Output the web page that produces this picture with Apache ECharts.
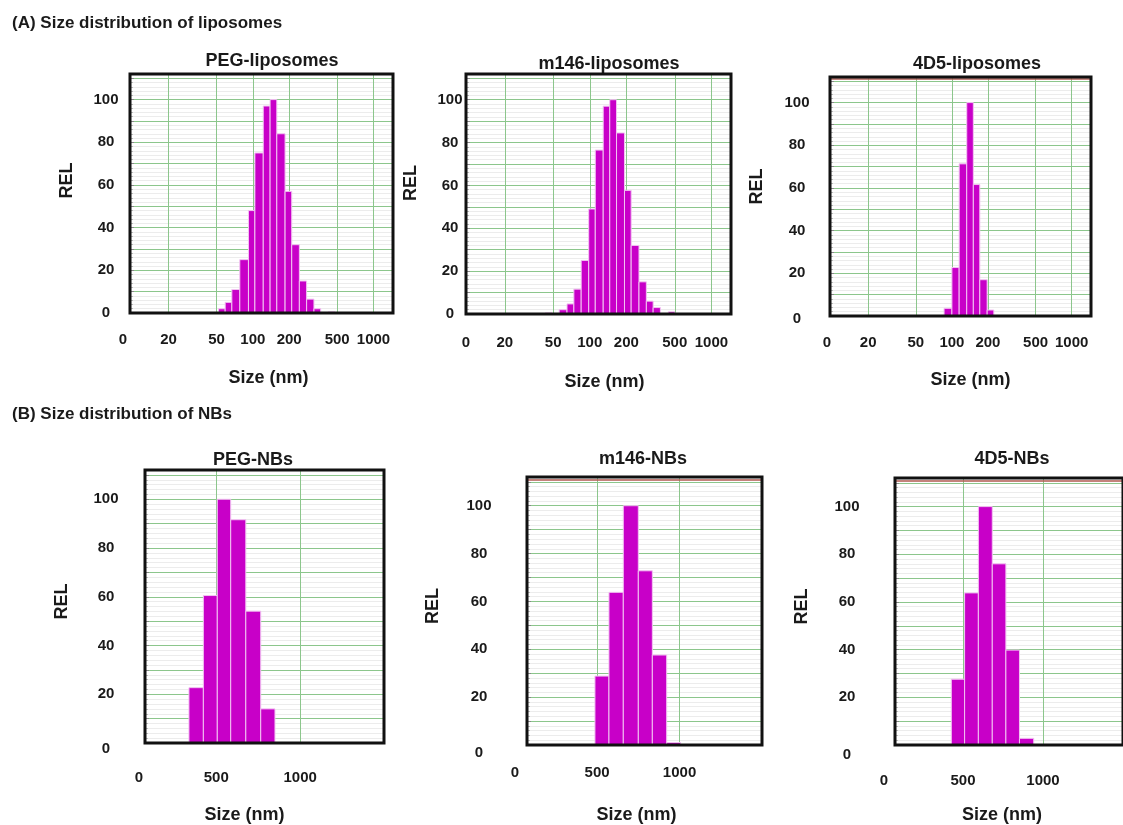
<!DOCTYPE html>
<html>
<head>
<meta charset="utf-8">
<title>Size distribution of liposomes and NBs</title>
<script src="https://cdn.jsdelivr.net/npm/echarts@6/dist/echarts.min.js"></script>
<style>
  html, body { margin: 0; padding: 0; background: #fff; }
  #chart { width: 1123px; height: 825px; }
</style>
</head>
<body>
<div id="chart"></div>
<script>
// ---- 数据：各面板的分箱边界 (nm) 与相对强度 REL ----
const pegLipoEdges = [52, 59, 67, 78, 92, 104, 122, 139, 158, 185, 210, 243, 279, 321, 365, 420, 480]
const pegLipoRel = [2, 5, 11, 25, 48, 75, 97, 100, 84, 57, 32, 15, 6.5, 2, 0, 0.5]

const m146LipoEdges = [43, 49, 56, 65, 74, 85, 98, 111, 129, 146, 166, 193, 219, 254, 292, 332, 381, 442, 501]
const m146LipoRel = [0.5, 0, 2, 4.7, 11.6, 25, 49, 76.5, 97, 100, 84.5, 57.7, 32, 15, 6, 3, 0, 1]

const d45LipoEdges = [86, 100, 115, 133, 151, 171, 197, 224]
const d45LipoRel = [3.6, 22.7, 71.3, 100, 61.6, 17, 2.8]

const pegNbEdges = [337, 423, 506, 586, 676, 765, 850]
const pegNbRel = [22.7, 60.5, 100, 91.6, 54.1, 14]

const m146NbEdges = [487, 572, 659, 750, 835, 922, 1007]
const m146NbRel = [28.8, 63.8, 100, 72.8, 37.6, 1]

const d45NbEdges = [427, 510, 596, 683, 768, 853, 942]
const d45NbRel = [27.6, 63.8, 100, 76, 39.8, 2.8]

// ---- 刻度 ----
const lipoTicks = [20, 50, 100, 200, 500, 1000]
const nbTicks = [500, 1000]
const lipoRange = [9.6, 1450]
const nbRange = [75, 1500]
const relMax = 112

// ---- 面板布局 ----
const panels = [
  { name: 'PEG-liposomes', edges: pegLipoEdges, rel: pegLipoRel, log: true,
    box: [130, 74, 263, 239], title: [272, 53], yMargin: 24, relGap: 54, relUp: 26,
    xMargin: 19, nameGap: 56, nameShift: 14, zeroX: 7, zeroY: 0, topLine: false },
  { name: 'm146-liposomes', edges: m146LipoEdges, rel: m146LipoRel, log: true,
    box: [466, 74, 265, 240], title: [609, 56], yMargin: 16, relGap: 46, relUp: 22,
    xMargin: 21, nameGap: 59, nameShift: 12, zeroX: 0, zeroY: 0, topLine: false },
  { name: '4D5-liposomes', edges: d45LipoEdges, rel: d45LipoRel, log: true,
    box: [830, 77, 261, 239], title: [977, 56], yMargin: 33, relGap: 64, relUp: 20,
    xMargin: 19, nameGap: 55, nameShift: 20, zeroX: 3, zeroY: 3, topLine: true },
  { name: 'PEG-NBs', edges: pegNbEdges, rel: pegNbRel, log: false,
    box: [145, 470, 239, 275], title: [253, 452], yMargin: 39, relGap: 74, relUp: 10,
    xMargin: 27, nameGap: 63, nameShift: -40, zeroX: 6, zeroY: 6, topLine: false },
  { name: 'm146-NBs', edges: m146NbEdges, rel: m146NbRel, log: false,
    box: [527, 477, 235, 270], title: [643, 451], yMargin: 48, relGap: 85, relUp: 10,
    xMargin: 20, nameGap: 61, nameShift: -16, zeroX: 12, zeroY: 8, topLine: true },
  { name: '4D5-NBs', edges: d45NbEdges, rel: d45NbRel, log: false,
    box: [895, 478, 240, 269], title: [1012, 451], yMargin: 48, relGap: 84, relUp: 10,
    xMargin: 28, nameGap: 61, nameShift: -14, zeroX: 11, zeroY: 10, topLine: true }
]

const FONT = "'Liberation Sans', Arial, sans-serif"
const INK = '#1a1a1a'
const GREEN = '#8cc68c'
const MINOR = '#ececec'
const BAR = '#c800c8'

const chart = echarts.init(document.getElementById('chart'))

function boldText(size) {
  return { fontFamily: FONT, fontWeight: 'bold', fontSize: size, color: INK }
}

// 直方柱：用坐标轴换算每个分箱的左右边界
function renderBin(params, api) {
  const base = api.coord([api.value(0), 0])
  const top = api.coord([api.value(1), api.value(2)])
  return {
    type: 'rect',
    shape: { x: base[0], y: top[1], width: top[0] - base[0], height: base[1] - top[1] },
    style: { fill: BAR, stroke: '#f2c4f2', lineWidth: 1 }
  }
}

const grids = []
const xAxes = []
const yAxes = []
const series = []
const titles = [
  { text: '(A) Size distribution of liposomes', left: 12, top: 15, padding: 0, textStyle: boldText(17) },
  { text: '(B) Size distribution of NBs', left: 12, top: 406, padding: 0, textStyle: boldText(17) }
]

panels.forEach((p, i) => {
  const [left, top, width, height] = p.box
  const range = p.log ? lipoRange : nbRange
  const ticks = p.log ? lipoTicks : nbTicks

  titles.push({ text: p.name, left: p.title[0], top: p.title[1] - 1, textAlign: 'center', padding: 0, textStyle: boldText(18) })

  grids.push({
    left, top, width, height, z: 10,
    show: true, backgroundColor: 'transparent', borderColor: '#111', borderWidth: 3
  })

  xAxes.push({
    gridIndex: i,
    type: p.log ? 'log' : 'value',
    logBase: 10,
    min: range[0],
    max: range[1],
    axisLine: { show: false },
    axisTick: { show: false, customValues: ticks },
    axisLabel: {
      customValues: [range[0], ...ticks],
      margin: p.xMargin,
      ...boldText(15),
      formatter: v => (v <= range[0] ? '{z|0}' : String(Math.round(v))),
      rich: { z: { ...boldText(15), padding: [0, p.zeroX * 2, 0, 0] } }
    },
    splitLine: { show: true, lineStyle: { color: GREEN, width: 1 } },
    name: 'Size (nm)',
    nameLocation: 'middle',
    nameGap: p.nameGap,
    nameTextStyle: {
      ...boldText(18),
      padding: p.nameShift >= 0 ? [0, 0, 0, p.nameShift] : [0, -p.nameShift, 0, 0]
    }
  })

  yAxes.push({
    gridIndex: i,
    type: 'value',
    min: 0,
    max: relMax,
    interval: 10,
    axisLine: { show: false },
    axisTick: { show: true, inside: true, length: 4, lineStyle: { color: '#888' } },
    minorTick: { show: true, splitNumber: 5, length: 3, lineStyle: { color: '#bbb' } },
    splitLine: { show: true, lineStyle: { color: GREEN, width: 1 } },
    minorSplitLine: { show: true, lineStyle: { color: MINOR, width: 1 } },
    axisLabel: {
      margin: p.yMargin,
      align: 'center',
      ...boldText(15),
      formatter: v => (v === 0 ? '{z|0}' : (v % 20 === 0 && v <= 100 ? String(v) : '')),
      rich: { z: { ...boldText(15), padding: [p.zeroY * 2, 0, 0, 0] } }
    },
    name: 'REL',
    nameLocation: 'middle',
    nameRotate: 90,
    nameGap: p.relGap,
    nameTextStyle: { ...boldText(18), padding: [0, 0, 0, p.relUp] }
  })

  const bins = p.rel.map((r, k) => [p.edges[k], p.edges[k + 1], r])
  series.push({
    type: 'custom',
    name: p.name,
    xAxisIndex: i,
    yAxisIndex: i,
    renderItem: renderBin,
    encode: { x: [0, 1], y: 2 },
    data: bins,
    markLine: p.topLine ? {
      silent: true,
      symbol: 'none',
      label: { show: false },
      lineStyle: { color: '#b05a50', width: 1.5, type: 'solid' },
      data: [{ yAxis: relMax - 1 }]
    } : undefined
  })
})

chart.setOption({
  animation: false,
  backgroundColor: '#fff',
  title: titles,
  grid: grids,
  xAxis: xAxes,
  yAxis: yAxes,
  series
})
</script>
</body>
</html>
